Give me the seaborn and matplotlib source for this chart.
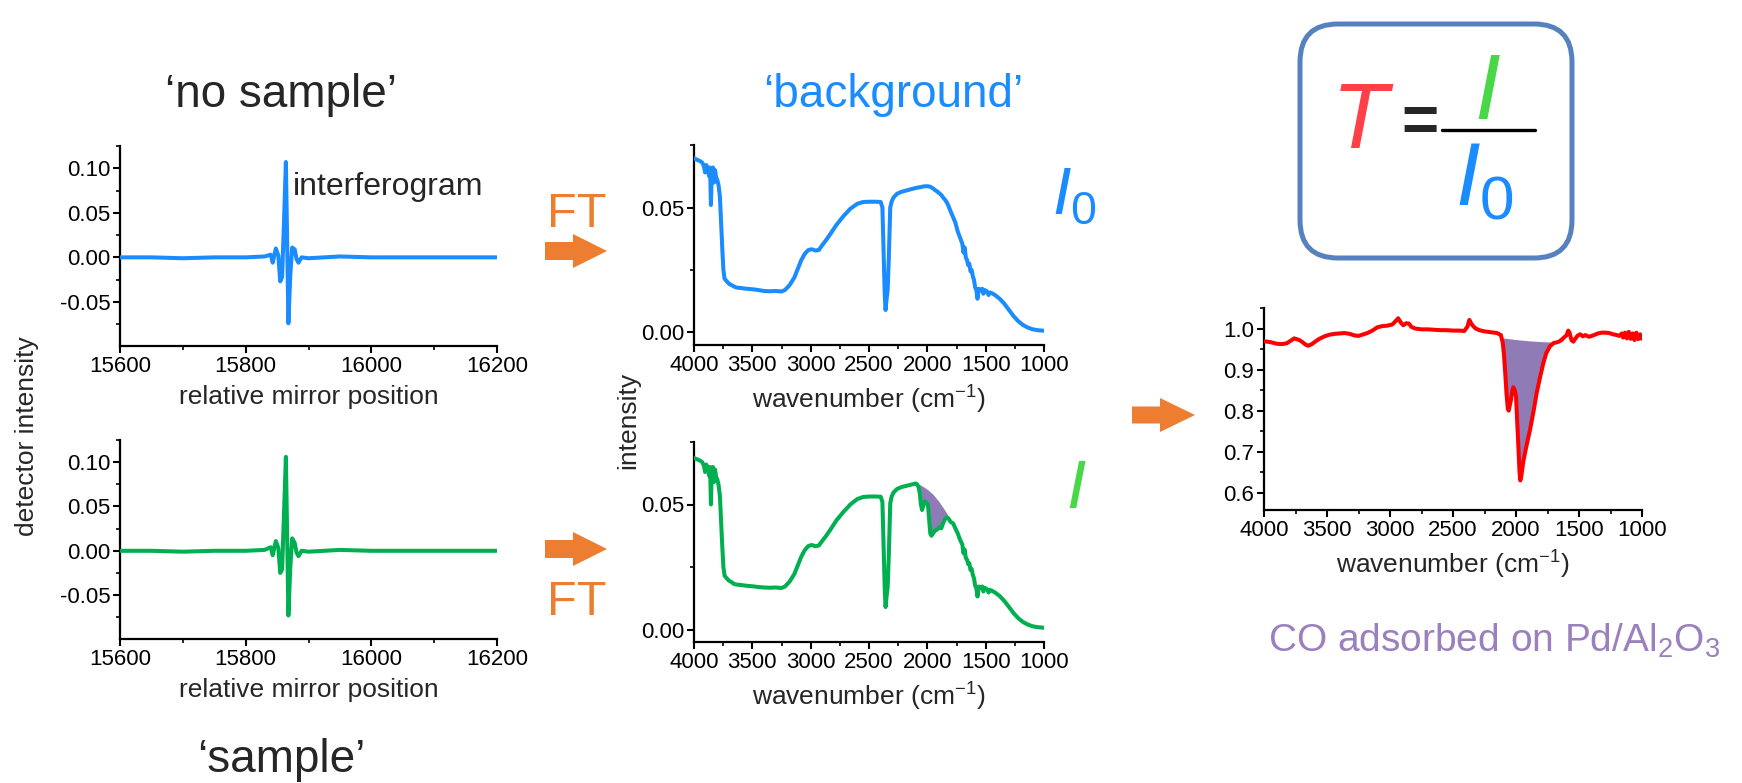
"""
FTIR schematic: interferograms -> single-beam spectra -> transmission.
"""

import matplotlib
matplotlib.use("Agg")
import numpy as np
import matplotlib.pyplot as plt
import seaborn as sns
from matplotlib.patches import FancyArrow, FancyBboxPatch
from matplotlib.ticker import MultipleLocator, FormatStrFormatter

output_file = "out.png"

# ---------------- data ----------------
# interferograms (relative mirror position vs detector intensity)
ifg_pos = [15600, 15650, 15700, 15750, 15800, 15830, 15840, 15843, 15848, 15852,
           15855, 15858, 15861, 15864, 15866, 15868, 15871, 15874, 15878, 15881,
           15884, 15889, 15900, 15950, 16000, 16100, 16200]
ifg_ref = [0.000, 0.000, -0.001, 0.000, 0.000, 0.001, 0.003, -0.006, 0.010, 0.002,
           -0.027, -0.022, 0.040, 0.107, 0.020, -0.074, -0.020, 0.011, 0.009, -0.002,
           -0.006, 0.000, -0.001, 0.001, 0.000, 0.000, 0.000]
ifg_smp = [0.000, 0.000, -0.001, 0.000, 0.000, 0.001, 0.004, -0.005, 0.011, 0.003,
           -0.025, -0.021, 0.042, 0.106, 0.018, -0.073, -0.019, 0.014, 0.009, -0.002,
           -0.006, 0.000, -0.001, 0.001, 0.000, 0.000, 0.000]

# single-beam spectra (wavenumber vs intensity)
sb_wn = [4000, 3970, 3950, 3930, 3915, 3905, 3895, 3880, 3870, 3862, 3855, 3848,
         3838, 3828, 3820, 3810, 3800, 3790, 3778, 3768, 3758, 3748, 3738, 3720,
         3700, 3680, 3660, 3640, 3600, 3550, 3500, 3450, 3400, 3350, 3300, 3250,
         3220, 3180, 3140, 3110, 3080, 3050, 3020, 2990, 2960, 2930, 2900, 2870,
         2830, 2780, 2720, 2660, 2600, 2550, 2500, 2440, 2400, 2385, 2375, 2365,
         2358, 2350, 2340, 2330, 2318, 2305, 2290, 2260, 2220, 2150, 2100, 2090,
         2075, 2065, 2055, 2045, 2035, 2020, 2005, 1995, 1985, 1975, 1965, 1950,
         1935, 1915, 1895, 1880, 1865, 1850, 1835, 1820, 1800, 1780, 1760, 1740,
         1720, 1700, 1690, 1680, 1670, 1660, 1650, 1640, 1630, 1620, 1610, 1600,
         1590, 1580, 1570, 1560, 1545, 1530, 1520, 1510, 1490, 1475, 1465, 1450,
         1420, 1380, 1340, 1300, 1260, 1220, 1180, 1140, 1100, 1050, 1000]
background = [0.0697, 0.0690, 0.0686, 0.0680, 0.0665, 0.0640, 0.0670, 0.0655, 0.0625,
              0.0660, 0.0510, 0.0640, 0.0660, 0.0600, 0.0650, 0.0620, 0.0610, 0.0590,
              0.0545, 0.0440, 0.0340, 0.0250, 0.0215, 0.0205, 0.0195, 0.0190, 0.0185,
              0.0180, 0.0178, 0.0175, 0.0173, 0.0170, 0.0166, 0.0165, 0.0166, 0.0164,
              0.0170, 0.0190, 0.0220, 0.0255, 0.0290, 0.0315, 0.0330, 0.0333, 0.0328,
              0.0330, 0.0350, 0.0368, 0.0395, 0.0430, 0.0465, 0.0495, 0.0515, 0.0522,
              0.0523, 0.0523, 0.0522, 0.0500, 0.0330, 0.0150, 0.0090, 0.0130, 0.0170,
              0.0300, 0.0500, 0.0525, 0.0540, 0.0555, 0.0563, 0.0572, 0.0578, 0.0579,
              0.0580, 0.0581, 0.0582, 0.0583, 0.0584, 0.0585, 0.0585, 0.0585, 0.0584,
              0.0583, 0.0580, 0.0576, 0.0570, 0.0564, 0.0556, 0.0550, 0.0540, 0.0532,
              0.0522, 0.0508, 0.0484, 0.0462, 0.0440, 0.0405, 0.0380, 0.0355, 0.0320,
              0.0340, 0.0300, 0.0290, 0.0270, 0.0275, 0.0245, 0.0250, 0.0225, 0.0210,
              0.0180, 0.0170, 0.0135, 0.0175, 0.0168, 0.0175, 0.0155, 0.0170, 0.0165,
              0.0150, 0.0160, 0.0158, 0.0150, 0.0135, 0.0115, 0.0090, 0.0065, 0.0045,
              0.0030, 0.0020, 0.0013, 0.0009, 0.0007]
sample = [0.0686, 0.0680, 0.0676, 0.0670, 0.0655, 0.0630, 0.0660, 0.0645, 0.0615,
          0.0650, 0.0500, 0.0630, 0.0650, 0.0590, 0.0640, 0.0610, 0.0600, 0.0580,
          0.0535, 0.0430, 0.0335, 0.0250, 0.0215, 0.0205, 0.0195, 0.0190, 0.0183,
          0.0180, 0.0178, 0.0175, 0.0173, 0.0170, 0.0168, 0.0167, 0.0168, 0.0166,
          0.0172, 0.0192, 0.0222, 0.0257, 0.0292, 0.0318, 0.0334, 0.0338, 0.0333,
          0.0336, 0.0355, 0.0373, 0.0400, 0.0436, 0.0470, 0.0500, 0.0522, 0.0530,
          0.0532, 0.0532, 0.0531, 0.0510, 0.0340, 0.0160, 0.0090, 0.0130, 0.0170,
          0.0300, 0.0505, 0.0533, 0.0548, 0.0562, 0.0570, 0.0578, 0.0584, 0.0582,
          0.0570, 0.0545, 0.0500, 0.0478, 0.0495, 0.0512, 0.0505, 0.0500, 0.0440,
          0.0385, 0.0375, 0.0385, 0.0395, 0.0400, 0.0410, 0.0405, 0.0425, 0.0440,
          0.0448, 0.0445, 0.0430, 0.0425, 0.0405, 0.0385, 0.0360, 0.0340, 0.0305,
          0.0320, 0.0285, 0.0280, 0.0262, 0.0265, 0.0238, 0.0242, 0.0218, 0.0205,
          0.0175, 0.0166, 0.0132, 0.0172, 0.0165, 0.0172, 0.0152, 0.0167, 0.0162,
          0.0148, 0.0158, 0.0156, 0.0148, 0.0134, 0.0114, 0.0090, 0.0065, 0.0045,
          0.0030, 0.0020, 0.0013, 0.0009, 0.0007]
# upper edge of the CO band area in the sample spectrum
co_base_wn = [1820, 1850, 1900, 1950, 2000, 2050, 2090]
co_base_int = [0.0455, 0.0478, 0.0512, 0.0540, 0.0560, 0.0575, 0.0582]

# transmission T = I / I0
tr_wn = [4000, 3950, 3900, 3860, 3820, 3790, 3760, 3740, 3720, 3700, 3670, 3650,
         3620, 3590, 3560, 3520, 3480, 3440, 3400, 3360, 3320, 3280, 3250, 3220,
         3180, 3140, 3100, 3060, 3020, 2980, 2950, 2935, 2915, 2895, 2870, 2850,
         2830, 2800, 2750, 2700, 2650, 2600, 2550, 2500, 2450, 2410, 2385, 2370,
         2355, 2340, 2320, 2290, 2250, 2200, 2150, 2120, 2105, 2095, 2085, 2075,
         2065, 2058, 2050, 2040, 2030, 2021, 2012, 2000, 1990, 1980, 1972, 1966,
         1958, 1942, 1920, 1889, 1860, 1836, 1810, 1783, 1760, 1730, 1700, 1680,
         1660, 1640, 1620, 1600, 1585, 1575, 1560, 1545, 1530, 1510, 1490, 1470,
         1450, 1420, 1390, 1350, 1320, 1290, 1260, 1230, 1200, 1180, 1160, 1150,
         1135, 1120, 1105, 1090, 1075, 1060, 1045, 1030, 1015, 1000]
transmission = [0.969, 0.967, 0.963, 0.962, 0.964, 0.970, 0.976, 0.974, 0.972, 0.968,
                0.961, 0.958, 0.962, 0.969, 0.975, 0.981, 0.985, 0.987, 0.988, 0.989,
                0.987, 0.983, 0.982, 0.985, 0.989, 0.995, 1.003, 1.006, 1.007, 1.010,
                1.020, 1.025, 1.015, 1.008, 1.013, 1.012, 1.004, 1.000, 0.998, 0.998,
                0.997, 0.996, 0.996, 0.995, 0.995, 0.994, 1.005, 1.021, 1.012, 1.006,
                1.000, 0.996, 0.993, 0.991, 0.989, 0.984, 0.965, 0.935, 0.890, 0.840,
                0.805, 0.800, 0.812, 0.826, 0.848, 0.857, 0.852, 0.835, 0.770, 0.705,
                0.650, 0.630, 0.640, 0.676, 0.710, 0.753, 0.800, 0.843, 0.880, 0.916,
                0.940, 0.957, 0.965, 0.966, 0.968, 0.972, 0.978, 0.983, 0.995, 0.990,
                0.972, 0.968, 0.975, 0.983, 0.986, 0.981, 0.984, 0.980, 0.983, 0.988,
                0.990, 0.990, 0.989, 0.986, 0.984, 0.982, 0.988, 0.978, 0.990, 0.976,
                0.992, 0.975, 0.988, 0.972, 0.990, 0.974, 0.986, 0.975]
tr_base_wn = [1720, 1800, 1900, 2000, 2105]
tr_base = [0.966, 0.967, 0.969, 0.972, 0.976]

# ---------------- colours ----------------
BLUE = "#1A8CFF"
GREEN = "#00B050"
LIME = "#47D747"
RED = "#FF0000"
TRED = "#FF4049"
PURPLE = "#8F7BB5"
PURPLE_TXT = "#9A80BC"
ORANGE = "#ED7D31"
FRAME = "#5582BE"

sns.set_style("ticks")
plt.rcParams["font.family"] = ["Liberation Sans", "DejaVu Sans"]
plt.rcParams["mathtext.fontset"] = "custom"
plt.rcParams["mathtext.rm"] = "Liberation Sans"
plt.rcParams["mathtext.it"] = "Liberation Sans:italic"
plt.rcParams["axes.unicode_minus"] = False

W, H = 1742, 783
fig = plt.figure(figsize=(W / 100, H / 100), dpi=100)


def px_axes(x0, y0, x1, y1):
    return fig.add_axes([x0 / W, 1 - y1 / H, (x1 - x0) / W, (y1 - y0) / H])


def style(ax):
    sns.despine(ax=ax)
    for s in ("left", "bottom"):
        ax.spines[s].set_linewidth(1.6)
        ax.spines[s].set_color("black")
    ax.tick_params(which="major", direction="out", length=5, width=1.5,
                   labelsize=16, pad=2, color="black", labelcolor="black")
    ax.tick_params(which="minor", direction="out", length=3, width=1.2, color="black")
    ax.set_facecolor("none")


def line(ax, x, y, color):
    sns.lineplot(x=x, y=y, ax=ax, color=color, linewidth=2.9,
                 estimator=None, sort=False, zorder=3)


# interferograms
for (y0, y1), vals, col in (((146, 346), ifg_ref, BLUE), ((440, 639), ifg_smp, GREEN)):
    ax = px_axes(120, y0, 497, y1)
    line(ax, ifg_pos, vals, col)
    ax.set_xlim(15600, 16200)
    ax.set_ylim(-0.0995, 0.125)
    ax.xaxis.set_major_locator(MultipleLocator(200))
    ax.xaxis.set_minor_locator(MultipleLocator(100))
    ax.yaxis.set_major_locator(MultipleLocator(0.05))
    ax.yaxis.set_minor_locator(MultipleLocator(0.025))
    ax.yaxis.set_major_formatter(FormatStrFormatter("%.2f"))
    ax.set_xlabel("relative mirror position", fontsize=19, labelpad=6)
    ax.set_ylabel("")
    style(ax)

# single-beam spectra
for (y0, y1), vals, col in (((145, 345), background, BLUE), ((442, 642), sample, GREEN)):
    ax = px_axes(694, y0, 1044, y1)
    if vals is sample:
        seg = [i for i, w in enumerate(sb_wn) if 1820 <= w <= 2090]
        ax.fill([sb_wn[i] for i in seg] + co_base_wn,
                [sample[i] for i in seg] + co_base_int,
                color=PURPLE, lw=0, zorder=2)
    line(ax, sb_wn, vals, col)
    ax.set_xlim(4000, 1000)
    ax.set_ylim(-0.005, 0.075)
    ax.xaxis.set_major_locator(MultipleLocator(500))
    ax.xaxis.set_minor_locator(MultipleLocator(250))
    ax.yaxis.set_major_locator(MultipleLocator(0.05))
    ax.yaxis.set_minor_locator(MultipleLocator(0.025))
    ax.yaxis.set_major_formatter(FormatStrFormatter("%.2f"))
    ax.set_xlabel("wavenumber (cm$^{-1}$)", fontsize=19, labelpad=6)
    ax.set_ylabel("")
    style(ax)

# transmission
ax = px_axes(1264, 308, 1642, 510)
seg = [i for i, w in enumerate(tr_wn) if 1720 <= w <= 2105]
ax.fill([tr_wn[i] for i in seg] + tr_base_wn,
        [transmission[i] for i in seg] + tr_base,
        color=PURPLE, lw=0, zorder=2)
line(ax, tr_wn, transmission, RED)
ax.set_xlim(4000, 1000)
ax.set_ylim(0.558, 1.05)
ax.xaxis.set_major_locator(MultipleLocator(500))
ax.xaxis.set_minor_locator(MultipleLocator(250))
ax.yaxis.set_major_locator(MultipleLocator(0.1))
ax.yaxis.set_minor_locator(MultipleLocator(0.05))
ax.yaxis.set_major_formatter(FormatStrFormatter("%.1f"))
ax.set_xlabel("wavenumber (cm$^{-1}$)", fontsize=19, labelpad=6)
ax.set_ylabel("")
style(ax)

# overlay in pixel coordinates for annotations
ov = fig.add_axes([0, 0, 1, 1], zorder=10)
ov.set_xlim(0, W)
ov.set_ylim(H, 0)
ov.axis("off")
ov.patch.set_alpha(0)

ov.text(281, 107, "\u2018no sample\u2019", fontsize=33, ha="center", va="baseline")
ov.text(893, 107, "\u2018background\u2019", fontsize=33, ha="center", va="baseline", color=BLUE)
ov.text(281, 772, "\u2018sample\u2019", fontsize=33, ha="center", va="baseline")
ov.text(293, 195, "interferogram", fontsize=23, ha="left", va="baseline")
ov.text(27, 436, "detector intensity", fontsize=19, rotation=90, ha="center", va="center")
ov.text(628, 420, "intensity", fontsize=19, rotation=90, ha="center", va="center")

# FT arrows
for y in (251, 549):
    ov.add_patch(FancyArrow(545, y, 62, 0, width=18, head_width=34, head_length=34,
                            length_includes_head=True, color=ORANGE, lw=0))
ov.add_patch(FancyArrow(1132, 415, 63, 0, width=17, head_width=34, head_length=35,
                        length_includes_head=True, color=ORANGE, lw=0))
ov.text(577, 227, "FT", fontsize=35, ha="center", va="baseline", color=ORANGE)
ov.text(577, 615, "FT", fontsize=35, ha="center", va="baseline", color=ORANGE)

# I0 / I labels
ov.text(1052, 213, "$I_0$", fontsize=48, ha="left", va="baseline", color=BLUE)
ov.text(1076, 508, "I", fontsize=50, fontstyle="italic", ha="center", va="baseline", color=LIME)

# T = I / I0 box
ov.add_patch(FancyBboxPatch((1300, 24), 272, 234, boxstyle="round,pad=0,rounding_size=38",
                            fill=False, edgecolor=FRAME, linewidth=3.6))
ov.text(1360, 148, "T", fontsize=66, fontstyle="italic", ha="center", va="baseline", color=TRED)
ov.text(1420, 124, "=", fontsize=46, ha="center", va="center", fontweight="bold")
ov.plot([1442, 1535], [130, 130], color="black", lw=2.4)
ov.text(1487, 119, "I", fontsize=67, fontstyle="italic", ha="center", va="baseline", color=LIME)
ov.text(1455, 205, "$I_0$", fontsize=64, ha="left", va="baseline", color=BLUE)

ov.text(1494, 652, "CO adsorbed on Pd/Al$_2$O$_3$", fontsize=28, ha="center",
        va="baseline", color=PURPLE_TXT)

plt.savefig(output_file, dpi=100)
plt.close()
